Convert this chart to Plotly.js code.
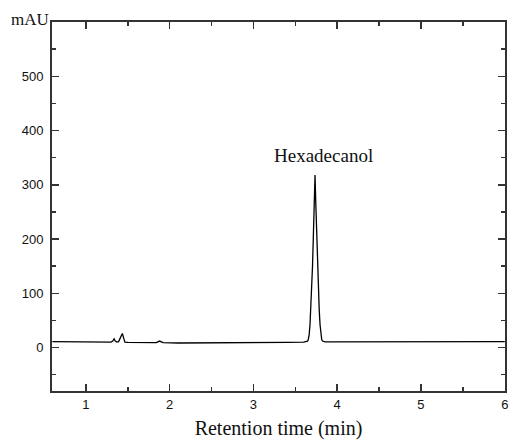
<!DOCTYPE html>
<html>
<head>
<meta charset="utf-8">
<script src="https://cdn.plot.ly/plotly-3.0.1.min.js"></script>
<style>html,body{margin:0;padding:0;background:#fff;}#chart{width:510px;height:444px;}</style>
</head>
<body>
<div id="chart"></div>
<script>
// Retention time (min)
var retentionTime = [0.6, 0.8, 1.0, 1.2, 1.3, 1.32, 1.336, 1.35, 1.37, 1.39, 1.41, 1.435, 1.45, 1.465, 1.5, 1.7, 1.84, 1.88, 1.92, 2.1, 2.5, 3.0, 3.4, 3.6, 3.635, 3.645, 3.655, 3.665, 3.675, 3.685, 3.695, 3.705, 3.715, 3.725, 3.735, 3.745, 3.755, 3.765, 3.775, 3.785, 3.795, 3.805, 3.815, 3.825, 3.855, 3.9, 4.5, 5.0, 5.5, 6.0];
// Absorbance (mAU)
var absorbance = [11, 10.5, 10, 10, 10, 12, 16, 12, 10, 11, 18, 26, 18, 10, 9.5, 9, 9, 12, 9, 8.5, 8.5, 9, 9.5, 10, 10.5, 12, 15, 24, 42, 70, 105, 150, 205, 262, 318, 262, 205, 150, 105, 70, 42, 24, 15, 12, 10.5, 10.5, 10.5, 11, 11, 11];

var yTickVals = [0, 100, 200, 300, 400, 500];
var yTickText = ["0", "100", "200", "300", "400", "500"];
var xTickVals = [1, 2, 3, 4, 5, 6];
var xTickText = ["1", "2", "3", "4", "5", "6"];
var peakLabel = "Hexadecanol";
var peakLabelPos = [3.84, 354];

var axisColor = "#333";
var tickFont = {family: "Arial, 'Liberation Sans', sans-serif", size: 13, color: "#111"};
var serif = "'Times New Roman', 'Liberation Serif', serif";

var trace = {
  x: retentionTime,
  y: absorbance,
  type: "scatter",
  mode: "lines",
  line: {color: "#000", width: 1.3, shape: "linear"},
  hoverinfo: "none"
};

var layout = {
  width: 510,
  height: 444,
  margin: {l: 52, r: 5, t: 22, b: 53},
  paper_bgcolor: "#fff",
  plot_bgcolor: "#fff",
  showlegend: false,
  xaxis: {
    range: [0.595, 6.003],
    tickvals: xTickVals,
    ticktext: xTickText,
    ticks: "inside",
    ticklen: 7,
    tickwidth: 1.5,
    tickcolor: axisColor,
    minor: {dtick: 0.5, tick0: 0, ticks: "inside", ticklen: 4, tickwidth: 1.5, tickcolor: axisColor},
    showline: true,
    linecolor: axisColor,
    linewidth: 2,
    mirror: "ticks",
    showgrid: false,
    zeroline: false,
    tickfont: tickFont,
    title: {text: "Retention time (min)", font: {family: serif, size: 20, color: "#111"}, standoff: 10}
  },
  yaxis: {
    range: [-80, 600],
    tickvals: yTickVals,
    ticktext: yTickText,
    ticks: "inside",
    ticklen: 7,
    tickwidth: 1.5,
    tickcolor: axisColor,
    minor: {dtick: 50, tick0: 0, ticks: "inside", ticklen: 4, tickwidth: 1.5, tickcolor: axisColor},
    showline: true,
    linecolor: axisColor,
    linewidth: 2,
    mirror: "ticks",
    showgrid: false,
    zeroline: false,
    tickfont: tickFont,
    ticklabelstandoff: 4
  },
  annotations: [
    {text: "mAU", xref: "paper", yref: "paper", x: 0, y: 1, xanchor: "right", yanchor: "middle",
     xshift: -1, yshift: 3, showarrow: false, font: {family: serif, size: 17, color: "#111"}},
    {text: peakLabel, xref: "x", yref: "y", x: peakLabelPos[0], y: peakLabelPos[1], xanchor: "center", yanchor: "middle",
     showarrow: false, font: {family: serif, size: 19, color: "#111"}}
  ]
};

Plotly.newPlot("chart", [trace], layout, {displayModeBar: false, staticPlot: true});
</script>
</body>
</html>
